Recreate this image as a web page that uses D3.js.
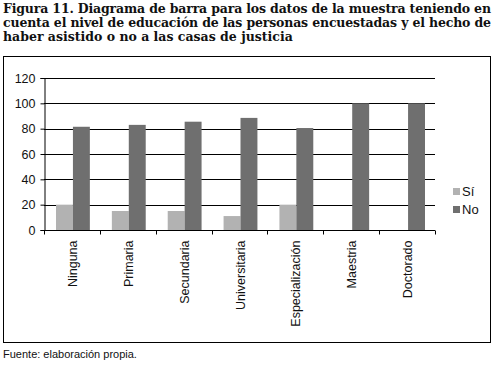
<!DOCTYPE html>
<html>
<head>
<meta charset="utf-8">
<script src="https://cdn.jsdelivr.net/npm/d3@7"></script>
<style>
  body { margin: 0; background: #fff; }
  svg { display: block; }
</style>
</head>
<body>
<svg id="chart" width="494" height="365"></svg>
<script>
var categories = ["Ninguna", "Primaria", "Secundaria", "Universitaria", "Especialización", "Maestria", "Doctorado"];
var seriesNames = ["Sí", "No"];
var siValues = [20, 15, 15, 11, 20, 0, 0];
var noValues = [81.5, 83, 85.5, 88.5, 80.5, 100, 100];
var yTicks = [0, 20, 40, 60, 80, 100, 120];
var titleLines = [
    "Figura 11. Diagrama de barra para los datos de la muestra teniendo en",
    "cuenta el nivel de educación de las personas encuestadas y el hecho de",
    "haber asistido o no a las casas de justicia"
];
var sourceText = "Fuente: elaboración propia.";

var colors = { "Sí": "#b2b2b2", "No": "#6f6f6f" };

var svg = d3.select("#chart");

// title, justified across the width like the printed caption
var title = svg.append("g");
titleLines.forEach(function (line, i) {
    var t = title.append("text")
        .attr("x", 3)
        .attr("y", 13 + i * 14)
        .attr("font-family", "DejaVu Serif")
        .attr("font-weight", "bold")
        .attr("font-size", 12.5)
        .attr("fill", "#111")
        .text(line);
    if (i < titleLines.length - 1) t.attr("textLength", 488).attr("lengthAdjust", "spacing");
});

// frame
svg.append("rect")
    .attr("x", 3.5).attr("y", 56.5)
    .attr("width", 487).attr("height", 286)
    .attr("fill", "none").attr("stroke", "#000").attr("stroke-width", 1);

var plot = { left: 44, right: 435, top: 78, bottom: 230 };

var x = d3.scaleBand().domain(categories).range([plot.left, plot.right]).paddingInner(0).paddingOuter(0);
var x1 = d3.scaleBand().domain(seriesNames).range([12, x.bandwidth() - 10]);
var y = d3.scaleLinear().domain([0, 120]).range([plot.bottom, plot.top]);

// gridlines
svg.append("g").selectAll("line")
    .data(yTicks.filter(d => d > 0))
    .join("line")
    .attr("x1", plot.left).attr("x2", plot.right)
    .attr("y1", d => Math.round(y(d)) + 0.5).attr("y2", d => Math.round(y(d)) + 0.5)
    .attr("stroke", "#000").attr("stroke-width", 1);

// bars
var data = categories.map((c, i) => ({ cat: c, vals: [
    { s: "Sí", v: siValues[i] }, { s: "No", v: noValues[i] }] }));

svg.append("g").selectAll("g")
    .data(data)
    .join("g")
    .attr("transform", d => "translate(" + x(d.cat) + ",0)")
    .selectAll("rect")
    .data(d => d.vals.filter(v => v.v > 0))
    .join("rect")
    .attr("x", d => x1(d.s))
    .attr("width", x1.bandwidth())
    .attr("y", d => y(d.v))
    .attr("height", d => y(0) - y(d.v))
    .attr("fill", d => colors[d.s]);

var font = "'Liberation Sans', Arial, sans-serif";

// y axis
var yAxis = d3.axisLeft(y).tickValues(yTicks).tickSize(4).tickPadding(5);
var gy = svg.append("g")
    .attr("transform", "translate(" + (plot.left + 0.5) + ",0)")
    .call(yAxis);
gy.selectAll("text").attr("font-family", font).attr("font-size", 12.5).attr("fill", "#111");
gy.selectAll("line, path").attr("stroke", "#000");

// x axis with ticks at band boundaries
var gx = svg.append("g")
    .attr("transform", "translate(0," + (plot.bottom + 0.5) + ")");
gx.append("line")
    .attr("x1", plot.left).attr("x2", plot.right)
    .attr("stroke", "#000");
gx.selectAll(".tk")
    .data(categories.concat(["end"]))
    .join("line")
    .attr("class", "tk")
    .attr("x1", (d, i) => Math.round(plot.left + i * x.bandwidth()) + 0.5)
    .attr("x2", (d, i) => Math.round(plot.left + i * x.bandwidth()) + 0.5)
    .attr("y1", 0).attr("y2", 4)
    .attr("stroke", "#000");
gx.selectAll(".lbl")
    .data(categories)
    .join("text")
    .attr("class", "lbl")
    .attr("transform", d => "translate(" + (x(d) + x.bandwidth() / 2 + 5) + ",10) rotate(-90)")
    .attr("text-anchor", "end")
    .attr("font-family", font)
    .attr("font-size", 12.5)
    .attr("fill", "#111")
    .text(d => d);

// legend
var legend = svg.append("g").attr("transform", "translate(453,188)");
seriesNames.forEach(function (s, i) {
    var g = legend.append("g").attr("transform", "translate(0," + i * 18 + ")");
    g.append("rect").attr("width", 7).attr("height", 7).attr("fill", colors[s]);
    g.append("text").attr("x", 9).attr("y", 8)
        .attr("font-family", font).attr("font-size", 13).attr("fill", "#111").text(s);
});

// source
svg.append("text")
    .attr("x", 3).attr("y", 358)
    .attr("font-family", font).attr("font-size", 11).attr("fill", "#111")
    .text(sourceText);
</script>
</body>
</html>
